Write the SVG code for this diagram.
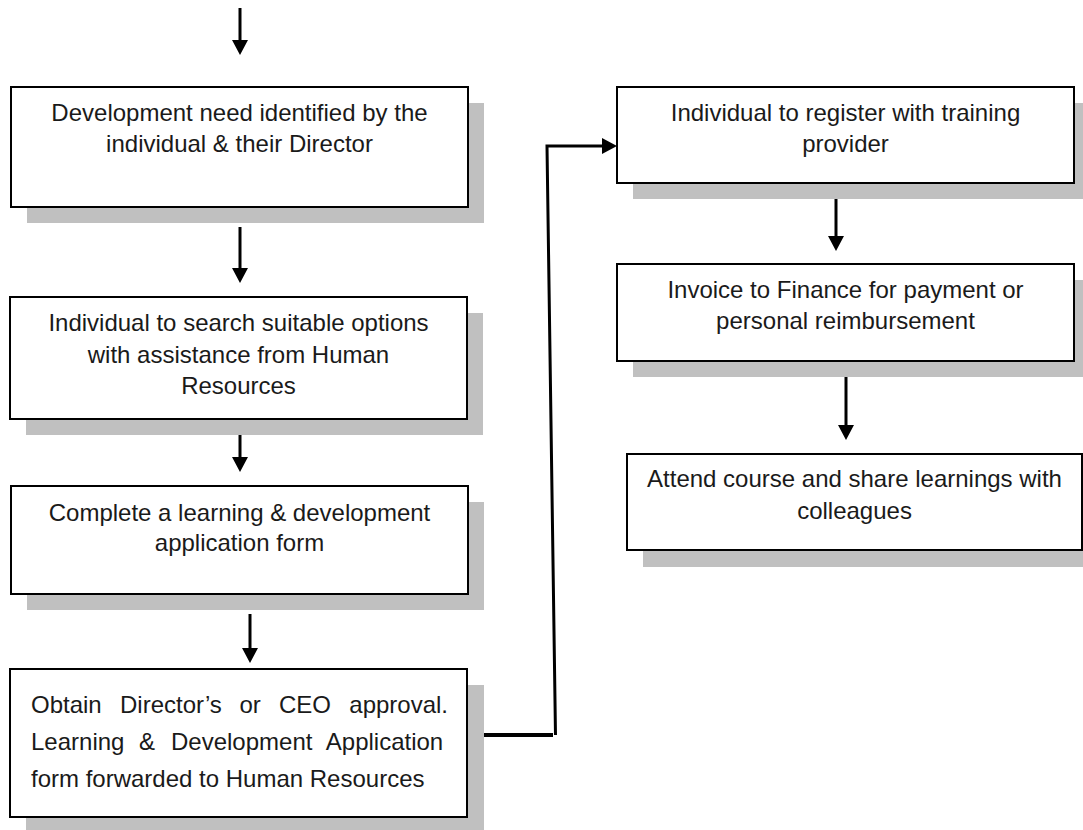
<svg xmlns="http://www.w3.org/2000/svg" width="1083" height="830" viewBox="0 0 1083 830">
<style>
.shadow{fill:#c0c0c0;stroke:none}
.box{fill:#ffffff;stroke:#000000;stroke-width:2}
.t{font-family:"Liberation Sans",Arial,sans-serif;font-size:24px;fill:#1a1a1a}
.c{text-anchor:middle}
.conn{fill:none;stroke:#000000;stroke-width:3}
</style>
<defs>
<marker id="ah" markerUnits="userSpaceOnUse" markerWidth="16" markerHeight="16" refX="3" refY="8" orient="auto" viewBox="0 0 15 16">
<path d="M0,0 L15,8 L0,16 Z" fill="#000000"/>
</marker>
</defs>
<rect width="1083" height="830" fill="#ffffff"/>

<g id="connectors">
<line class="conn" x1="240" y1="8" x2="240" y2="43" marker-end="url(#ah)"/>
<line class="conn" x1="240" y1="227" x2="240" y2="271" marker-end="url(#ah)"/>
<line class="conn" x1="240" y1="418" x2="240" y2="460" marker-end="url(#ah)"/>
<line class="conn" x1="250" y1="614" x2="250" y2="651" marker-end="url(#ah)"/>
<line class="conn" x1="836" y1="197" x2="836" y2="239" marker-end="url(#ah)"/>
<line class="conn" x1="846" y1="375" x2="846" y2="428" marker-end="url(#ah)"/>
<path class="conn" d="M468,735 H553" style="stroke-width:4"/>
<path class="conn" d="M555.5,735 L547,146 H605" marker-end="url(#ah)"/>
</g>

<g id="node1">
<rect class="shadow" x="27" y="103" width="457" height="120"/>
<rect class="box" x="11" y="87" width="457" height="120"/>
<text class="t c" x="239.5" y="120.5">Development need identified by the</text>
<text class="t c" x="239.5" y="152">individual &amp; their Director</text>
</g>

<g id="node2">
<rect class="shadow" x="26" y="313" width="457" height="122"/>
<rect class="box" x="10" y="297" width="457" height="122"/>
<text class="t c" x="238.5" y="331">Individual to search suitable options</text>
<text class="t c" x="238.5" y="362.5">with assistance from Human</text>
<text class="t c" x="238.5" y="394">Resources</text>
</g>

<g id="node3">
<rect class="shadow" x="27" y="502" width="457" height="108"/>
<rect class="box" x="11" y="486" width="457" height="108"/>
<text class="t c" x="239.5" y="520.5">Complete a learning &amp; development</text>
<text class="t c" x="239.5" y="551">application form</text>
</g>

<g id="node4">
<rect class="shadow" x="26" y="685" width="458" height="148"/>
<rect class="box" x="10" y="669" width="457" height="148"/>
<text class="t" y="712.7"><tspan x="31">Obtain</tspan><tspan x="120">Director’s</tspan><tspan x="239.5">or</tspan><tspan x="279">CEO</tspan><tspan x="349.3">approval.</tspan></text>
<text class="t" y="750"><tspan x="31">Learning</tspan><tspan x="139">&amp;</tspan><tspan x="171">Development</tspan><tspan x="325.8">Application</tspan></text>
<text class="t" x="31" y="786.7">form forwarded to Human Resources</text>
</g>

<g id="node5">
<rect class="shadow" x="633" y="103" width="457" height="96"/>
<rect class="box" x="617" y="87" width="457" height="96"/>
<text class="t c" x="845.5" y="120.7">Individual to register with training</text>
<text class="t c" x="845.5" y="151.7">provider</text>
</g>

<g id="node6">
<rect class="shadow" x="633" y="280" width="457" height="97"/>
<rect class="box" x="617" y="264" width="457" height="97"/>
<text class="t c" x="845.5" y="298.3">Invoice to Finance for payment or</text>
<text class="t c" x="845.5" y="329.3">personal reimbursement</text>
</g>

<g id="node7">
<rect class="shadow" x="643" y="470" width="456" height="97"/>
<rect class="box" x="627" y="454" width="455" height="96"/>
<text class="t c" x="854.5" y="487">Attend course and share learnings with</text>
<text class="t c" x="854.5" y="518.5">colleagues</text>
</g>
</svg>
